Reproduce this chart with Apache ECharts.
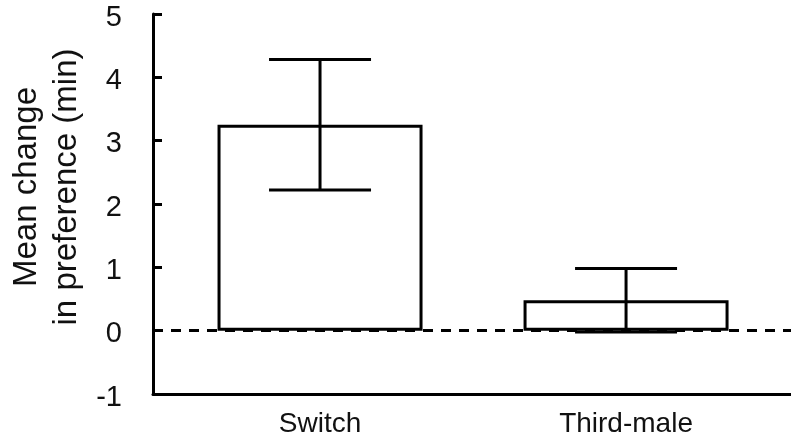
<!DOCTYPE html>
<html>
<head>
<meta charset="utf-8">
<script src="https://cdn.jsdelivr.net/npm/echarts@6/dist/echarts.min.js"></script>
<style>
html,body{margin:0;padding:0;background:#fff;}
#chart{width:791px;height:443px;}
</style>
</head>
<body>
<div id="chart"></div>
<script>
var categories = ['Switch', 'Third-male'];
var categoryPositions = [1, 2];
var means = [3.25, 0.48];
var sems = [1.03, 0.5];
var yTicks = [-1, 0, 1, 2, 3, 4, 5];
var yTitleLines = ['Mean change', 'in preference (min)'];

var FONT = '"Liberation Sans", Arial, sans-serif';
var chart = echarts.init(document.getElementById('chart'));

var barData = categoryPositions.map(function (p, i) { return [p, means[i]]; });
var errData = categoryPositions.map(function (p, i) { return [p, means[i] - sems[i], means[i] + sems[i]]; });

var option = {
  animation: false,
  backgroundColor: '#fff',
  grid: { left: 153, right: 0, top: 14, bottom: 49, containLabel: false },
  xAxis: {
    type: 'value',
    min: 0.4542,
    max: 2.539,
    splitLine: { show: false },
    axisLine: { onZero: false, lineStyle: { color: '#000', width: 3 } },
    axisTick: { show: false },
    axisLabel: {
      customValues: categoryPositions,
      formatter: function (v) {
        var idx = categoryPositions.indexOf(Math.round(v));
        return idx >= 0 ? categories[idx] : '';
      },
      color: '#111',
      fontFamily: FONT,
      fontSize: 28,
      margin: 16
    }
  },
  yAxis: {
    type: 'value',
    min: -1,
    max: 5,
    interval: 1,
    splitLine: { show: false },
    axisLine: { lineStyle: { color: '#000', width: 3 } },
    axisTick: { inside: true, length: 9, lineStyle: { color: '#000', width: 3 } },
    axisLabel: {
      margin: 31,
      formatter: function (v) { return yTicks.indexOf(v) >= 0 ? '{t|' + v + '}' : ''; },
      rich: {
        t: {
          color: '#111',
          fontFamily: FONT,
          fontSize: 29,
          padding: [7, 0, 0, 0]
        }
      }
    }
  },
  graphic: [{
    type: 'text',
    x: 47,
    y: 187,
    rotation: Math.PI / 2,
    style: {
      text: yTitleLines.join('\n'),
      font: '33px ' + FONT,
      fill: '#111',
      align: 'center',
      verticalAlign: 'middle',
      lineHeight: 40
    }
  }],
  series: [
    {
      type: 'bar',
      data: barData,
      barWidth: 205,
      itemStyle: { color: '#fff', borderColor: '#000', borderWidth: 3 },
      z: 2,
      markLine: {
        silent: true,
        symbol: 'none',
        label: { show: false },
        lineStyle: { color: '#000', width: 3, type: [10, 8] },
        data: [{ yAxis: 0 }],
        z: 1
      }
    },
    {
      type: 'custom',
      data: errData,
      z: 3,
      renderItem: function (params, api) {
        var x = api.value(0);
        var lo = api.coord([x, api.value(1)]);
        var hi = api.coord([x, api.value(2)]);
        var half = 51;
        var st = { stroke: '#000', lineWidth: 3 };
        return {
          type: 'group',
          children: [
            { type: 'line', shape: { x1: hi[0], y1: hi[1], x2: lo[0], y2: lo[1] }, style: st },
            { type: 'line', shape: { x1: hi[0] - half, y1: hi[1], x2: hi[0] + half, y2: hi[1] }, style: st },
            { type: 'line', shape: { x1: lo[0] - half, y1: lo[1], x2: lo[0] + half, y2: lo[1] }, style: st }
          ]
        };
      }
    }
  ]
};
chart.setOption(option);
</script>
</body>
</html>
